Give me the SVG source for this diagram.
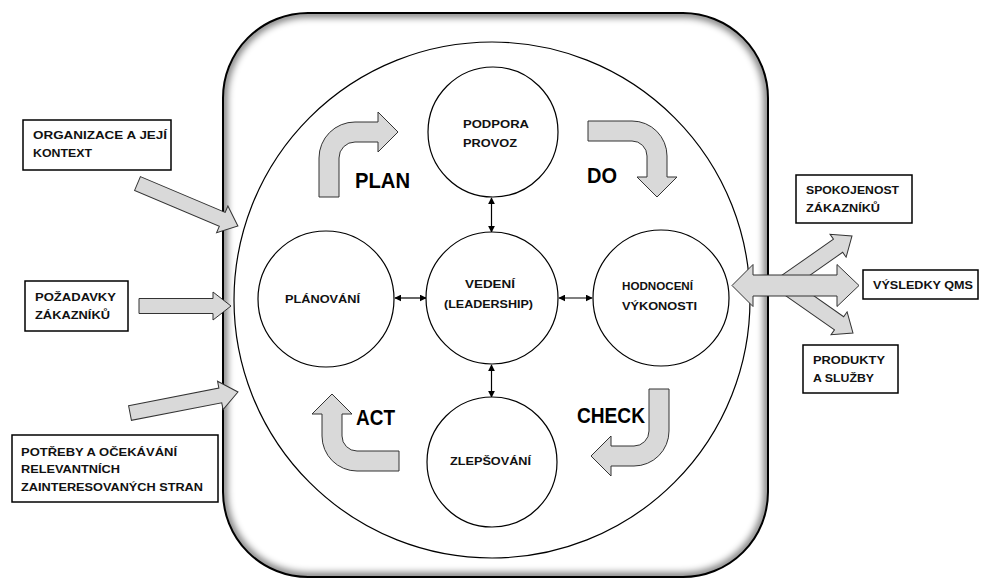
<svg xmlns="http://www.w3.org/2000/svg" width="981" height="579" viewBox="0 0 981 579">
<style>
  .bg{fill:#fff}
  .node{fill:#fff;stroke:#000;stroke-width:1.2}
  .box{fill:#fff;stroke:#000;stroke-width:1.5}
  .blk{fill:#d9d9d9;stroke:#333;stroke-width:1}
  .t{font-family:"Liberation Sans",Arial,sans-serif;font-weight:bold;font-size:11px;fill:#111}
  .big{font-family:"Liberation Sans",Arial,sans-serif;font-weight:bold;font-size:22px;fill:#000}
  .con{stroke:#000;stroke-width:1.2;fill:none;marker-start:url(#ah);marker-end:url(#ah)}
</style>
<defs>
  <marker id="ah" viewBox="0 0 10 10" refX="9" refY="5" markerWidth="7" markerHeight="7" markerUnits="userSpaceOnUse" orient="auto-start-reverse">
    <path d="M0,0 L10,5 L0,10 Z" fill="#000"/>
  </marker>
  <clipPath id="frameClip"><rect x="223" y="13" width="545" height="564" rx="85"/></clipPath>
  <filter id="soft" x="-5%" y="-5%" width="110%" height="110%"><feGaussianBlur stdDeviation="3.5"/></filter>
</defs>
<rect class="bg" x="0" y="0" width="981" height="579"/>

<g id="frame">
  <rect x="223" y="13" width="545" height="564" rx="85" fill="#fff"/>
  <g clip-path="url(#frameClip)">
    <rect x="223" y="13" width="545" height="564" rx="85" fill="none" stroke="#000" stroke-width="9" opacity="0.5" filter="url(#soft)"/>
  </g>
  <rect x="223" y="13" width="545" height="564" rx="85" fill="none" stroke="#000" stroke-width="2"/>
</g>

<g id="outer-circle">
  <circle cx="492" cy="300" r="258" fill="none" stroke="#000" stroke-width="1.2"/>
</g>

<g id="block-arrows">
  <polygon class="blk" transform="translate(137.5,183.5) rotate(22.9)" points="0,-7.5 92,-7.5 92,-14.5 109,0 92,14.5 92,7.5 0,7.5"/>
  <polygon class="blk" points="139,298.5 213,298.5 213,292 231,306 213,320 213,313.5 139,313.5"/>
  <polygon class="blk" transform="translate(130,413) rotate(-11)" points="0,-7.5 92,-7.5 92,-14.5 110,0 92,14.5 92,7.5 0,7.5"/>
  <polygon class="blk" transform="translate(852,236) rotate(-35)" points="-85,-8 -17,-8 -17,-14 0,0 -17,14 -17,8 -85,8"/>
  <polygon class="blk" transform="translate(853,333) rotate(35)" points="-85,-8 -17,-8 -17,-14 0,0 -17,14 -17,8 -85,8"/>
  <polygon class="blk" points="732,285.5 753,264.5 753,275 837,275 837,264.5 859,285.5 837,306.5 837,296 753,296 753,306.5"/>
  <path id="plan-arrow" class="blk" d="M319,197 L319,158 A36,36 0 0 1 355,122 L378,122 L378,112 L398,132 L378,152 L378,142 L355,142 A16,16 0 0 0 339,158 L339,197 Z"/>
  <path id="do-arrow" class="blk" d="M588,121 L632,121 A35,35 0 0 1 667,156 L667,177 L677,177 L657,197 L637,177 L647,177 L647,156 A15,15 0 0 0 632,141 L588,141 Z"/>
  <path id="check-arrow" class="blk" d="M649,389 L669,389 L669,431 A35,35 0 0 1 634,466 L611,466 L611,476 L591,456 L611,436 L611,446 L634,446 A15,15 0 0 0 649,431 Z"/>
  <path id="act-arrow" class="blk" d="M399,451 L357,451 A15,15 0 0 1 342,436 L342,414 L352,414 L332,394 L312,414 L322,414 L322,436 A35,35 0 0 0 357,471 L399,471 Z"/>
</g>

<g id="connectors">
  <line class="con" x1="491.5" y1="198" x2="491.5" y2="232"/>
  <line class="con" x1="491.5" y1="365" x2="491.5" y2="397"/>
  <line class="con" x1="395" y1="298" x2="426" y2="298"/>
  <line class="con" x1="559" y1="298" x2="592" y2="298"/>
</g>

<g id="node-podpora">
  <circle class="node" cx="493" cy="132" r="65"/>
  <text class="t" x="463" y="128" textLength="66" lengthAdjust="spacingAndGlyphs">PODPORA</text>
  <text class="t" x="463" y="147" textLength="54" lengthAdjust="spacingAndGlyphs">PROVOZ</text>
</g>
<g id="node-vedeni">
  <circle class="node" cx="492" cy="298" r="66"/>
  <text class="t" x="465" y="288" textLength="50" lengthAdjust="spacingAndGlyphs">VEDENÍ</text>
  <text class="t" x="444" y="308" textLength="89" lengthAdjust="spacingAndGlyphs">(LEADERSHIP)</text>
</g>
<g id="node-planovani">
  <circle class="node" cx="326" cy="299" r="68"/>
  <text class="t" x="285" y="303" textLength="75" lengthAdjust="spacingAndGlyphs">PLÁNOVÁNÍ</text>
</g>
<g id="node-hodnoceni">
  <circle class="node" cx="661" cy="298" r="68"/>
  <text class="t" x="622" y="290" textLength="71" lengthAdjust="spacingAndGlyphs">HODNOCENÍ</text>
  <text class="t" x="622" y="310" textLength="75" lengthAdjust="spacingAndGlyphs">VÝKONOSTI</text>
</g>
<g id="node-zlepsovani">
  <circle class="node" cx="492" cy="462" r="65"/>
  <text class="t" x="450" y="465" textLength="81" lengthAdjust="spacingAndGlyphs">ZLEPŠOVÁNÍ</text>
</g>

<g id="labels">
  <text class="big" x="355" y="188" textLength="55" lengthAdjust="spacingAndGlyphs">PLAN</text>
  <text class="big" x="587" y="183" textLength="30" lengthAdjust="spacingAndGlyphs">DO</text>
  <text class="big" x="356" y="425" textLength="39" lengthAdjust="spacingAndGlyphs">ACT</text>
  <text class="big" x="577" y="423" textLength="68" lengthAdjust="spacingAndGlyphs">CHECK</text>
</g>

<g id="box-organizace">
  <rect class="box" x="23" y="120" width="148" height="50"/>
  <text class="t" x="33" y="139" textLength="134" lengthAdjust="spacingAndGlyphs">ORGANIZACE A JEJÍ</text>
  <text class="t" x="33" y="157" textLength="59" lengthAdjust="spacingAndGlyphs">KONTEXT</text>
</g>
<g id="box-pozadavky">
  <rect class="box" x="25" y="281" width="103" height="50"/>
  <text class="t" x="35" y="301" textLength="81" lengthAdjust="spacingAndGlyphs">POŽADAVKY</text>
  <text class="t" x="35" y="319" textLength="75" lengthAdjust="spacingAndGlyphs">ZÁKAZNÍKŮ</text>
</g>
<g id="box-potreby">
  <rect class="box" x="12" y="435" width="206" height="67"/>
  <text class="t" x="21" y="456" textLength="156" lengthAdjust="spacingAndGlyphs">POTŘEBY A OČEKÁVÁNÍ</text>
  <text class="t" x="21" y="473" textLength="99" lengthAdjust="spacingAndGlyphs">RELEVANTNÍCH</text>
  <text class="t" x="21" y="491" textLength="182" lengthAdjust="spacingAndGlyphs">ZAINTERESOVANÝCH STRAN</text>
</g>
<g id="box-spokojenost">
  <rect class="box" x="796" y="175" width="116" height="48"/>
  <text class="t" x="806" y="194" textLength="93" lengthAdjust="spacingAndGlyphs">SPOKOJENOST</text>
  <text class="t" x="806" y="212" textLength="74" lengthAdjust="spacingAndGlyphs">ZÁKAZNÍKŮ</text>
</g>
<g id="box-vysledky">
  <rect class="box" x="863" y="270" width="115" height="29"/>
  <text class="t" x="873" y="289" textLength="100" lengthAdjust="spacingAndGlyphs">VÝSLEDKY QMS</text>
</g>
<g id="box-produkty">
  <rect class="box" x="803" y="345" width="95" height="48"/>
  <text class="t" x="813" y="364" textLength="72" lengthAdjust="spacingAndGlyphs">PRODUKTY</text>
  <text class="t" x="813" y="382" textLength="61" lengthAdjust="spacingAndGlyphs">A SLUŽBY</text>
</g>
</svg>
